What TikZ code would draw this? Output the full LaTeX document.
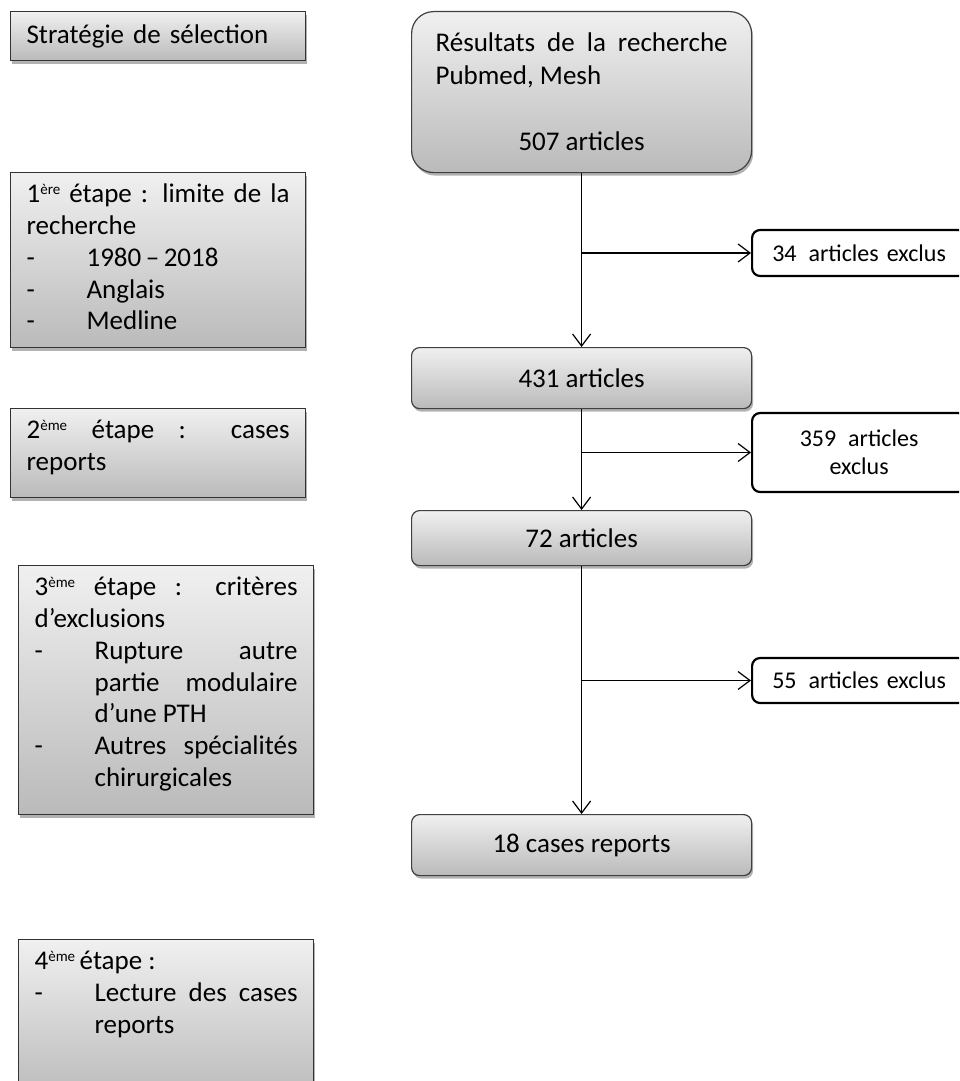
\documentclass[tikz,border=0pt]{standalone}
\usepackage{fontspec}
\setmainfont{Carlito}
\usetikzlibrary{arrows.meta,shadows}
\definecolor{gtop}{HTML}{F0F0F0}
\definecolor{gbot}{HTML}{BABABA}
\newcommand{\supx}[1]{\raisebox{8.5pt}{\fontsize{15pt}{15pt}\selectfont #1}}
\newcommand{\dashitem}[1]{\par\hangindent=60pt\hangafter=1\noindent\makebox[60pt][l]{-}#1\par}
\newcommand{\lefttext}[2]{\parbox[c][#1][t]{263pt}{\hyphenpenalty=10000\tolerance=10000\hbadness=10000\rule{0pt}{30pt}#2}}
\begin{document}
\begin{tikzpicture}[x=1pt,y=-1pt,
  shade/.style={top color=gtop, bottom color=gbot,
    drop shadow={shadow xshift=1.5pt, shadow yshift=-3pt, opacity=0.3, fill=black}},
  lbox/.style={shade, draw=black!80, line width=1.2pt, inner xsep=16pt, inner ysep=0pt,
    anchor=north west, font=\fontsize{27pt}{31.8pt}\selectfont},
  rbox/.style={shade, draw=black!75, line width=1.2pt, rounded corners=8pt, inner sep=0pt,
    anchor=north west, minimum width=340pt, font=\fontsize{27pt}{33pt}\selectfont},
  exbox/.style={draw=black, line width=2.2pt, fill=white, rounded corners=8pt, inner sep=0pt,
    anchor=west, minimum width=214pt, text width=209pt, align=center,
    font=\fontsize{24pt}{28pt}\selectfont},
  conn/.style={draw=black, line width=1.2pt, -{Straight Barb[length=12pt,width=18pt]}}]
\useasboundingbox (0,0) rectangle (959,1081);
\clip (0,0) rectangle (959,1081);

% left column
\node[lbox, minimum width=295pt, minimum height=49pt, text width=263pt, align=left] (s0) at (10,11) {Stratégie de sélection};
\node[lbox, minimum width=295pt, minimum height=175pt] (s1) at (10,172)
  {\lefttext{175pt}{1\supx{ère} étape : limite de la\linebreak recherche
   \dashitem{1980\,–\,2018}\dashitem{Anglais}\dashitem{Medline}}};
\node[lbox, minimum width=295pt, minimum height=89pt] (s2) at (10,408)
  {\lefttext{89pt}{2\supx{ème} étape : cases\linebreak reports}};
\node[lbox, minimum width=295pt, minimum height=249pt] (s3) at (18,565)
  {\lefttext{249pt}{3\supx{ème} étape : critères\linebreak d’exclusions
   \dashitem{Rupture autre\linebreak partie modulaire\linebreak d’une PTH}
   \dashitem{Autres spécialités\linebreak chirurgicales}}};
\node[lbox, minimum width=295pt, minimum height=160pt] (s4) at (18,939)
  {\lefttext{160pt}{4\supx{ème}\,étape :
   \dashitem{Lecture des cases\linebreak reports}}};

% right column
\node[rbox, rounded corners=22pt, minimum height=161pt] (r0) at (411,11)
  {\parbox[c][161pt][t]{292pt}{\hyphenpenalty=10000\rule{0pt}{40pt}Résultats de la recherche\linebreak Pubmed, Mesh\par\vspace{33pt}\centering 507 articles\par}};
\node[rbox, minimum height=61pt] (r431) at (411,347) {431 articles};
\node[rbox, minimum height=55pt] (r72) at (411,510) {72 articles};
\node[rbox, minimum height=61pt] (r18) at (411,814) {18 cases reports};

\node[exbox, minimum height=46pt] (e34) at (751,253) {34\ \,articles exclus};
\node[exbox, minimum height=79pt] (e359) at (751,452.5) {359\ \,articles\\exclus};
\node[exbox, minimum height=45pt] (e55) at (751,680.5) {55\ \,articles exclus};

\coordinate (j1) at (r0.south |- e34.west);
\coordinate (j2) at (r431.south |- e359.west);
\coordinate (j3) at (r72.south |- e55.west);

\draw[conn] (r0.south) -- (r431.north);
\draw[conn] (r431.south) -- (r72.north);
\draw[conn] (r72.south) -- (r18.north);
\draw[conn] (j1) -- (e34.west);
\draw[conn] (j2) -- (e359.west);
\draw[conn] (j3) -- (e55.west);
\end{tikzpicture}
\end{document}
